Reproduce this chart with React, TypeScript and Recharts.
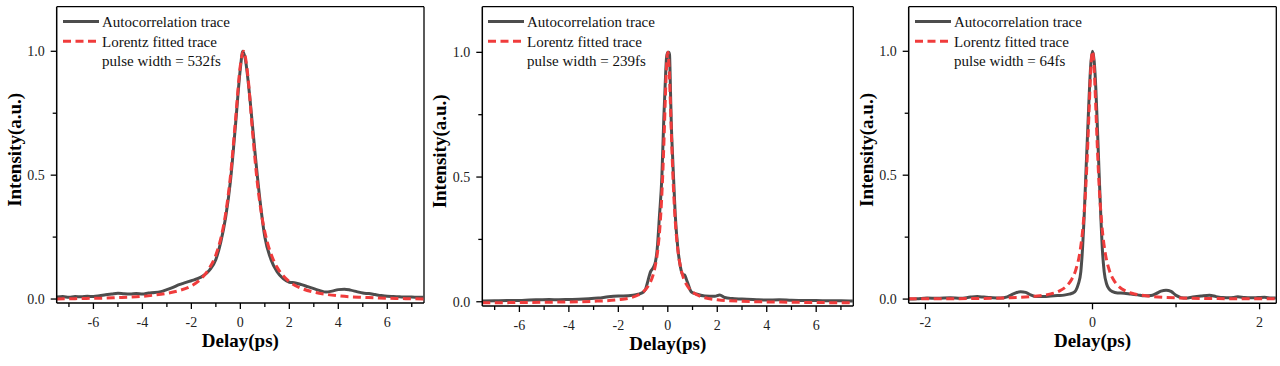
import React from 'react';
import { LineChart, Line, XAxis, YAxis, Label, Legend, ReferenceLine } from 'recharts';

// ---------- text ----------
const seriesNames = ['Autocorrelation trace', 'Lorentz fitted trace'];
const pulseWidths = ['532fs', '239fs', '64fs'];
const xAxisTitle = 'Delay(ps)';
const yAxisTitle = 'Intensity(a.u.)';

// ---------- ticks ----------
const wideDelayTicks = [-7, -6, -5, -4, -3, -2, -1, 0, 1, 2, 3, 4, 5, 6, 7];
const wideDelayLabeled = [-6, -4, -2, 0, 2, 4, 6];
const narrowDelayTicks = [-2, -1, 0, 1, 2];
const narrowDelayLabeled = [-2, 0, 2];
const intensityTicks = [0, 0.25, 0.5, 0.75, 1];
const intensityLabeled = [0, 0.5, 1];

// ---------- panel 1 (532 fs) ----------
const trace532Delay = [-7.5, -7.25, -7, -6.75, -6.5, -6.25, -6, -5.75, -5.5, -5.25, -5, -4.75, -4.5, -4.25, -4, -3.75, -3.5, -3.25, -3, -2.75, -2.5, -2.25, -2, -1.75, -1.5, -1.25, -1, -0.8, -0.6, -0.4, -0.2, 0, 0.1, 0.2, 0.4, 0.6, 0.8, 1, 1.25, 1.5, 1.75, 2, 2.25, 2.5, 2.75, 3, 3.25, 3.5, 3.75, 4, 4.25, 4.5, 4.75, 5, 5.25, 5.5, 5.75, 6, 6.25, 6.5, 6.75, 7, 7.25, 7.5];
const trace532Intensity = [0.008, 0.01, 0.007, 0.01, 0.009, 0.011, 0.01, 0.013, 0.017, 0.02, 0.023, 0.021, 0.02, 0.022, 0.02, 0.024, 0.026, 0.03, 0.038, 0.047, 0.058, 0.066, 0.074, 0.082, 0.095, 0.118, 0.16, 0.23, 0.33, 0.48, 0.7, 0.93, 1.0, 0.97, 0.8, 0.59, 0.4, 0.25, 0.16, 0.11, 0.082, 0.068, 0.065, 0.058, 0.05, 0.042, 0.034, 0.028, 0.032, 0.038, 0.04, 0.036, 0.03, 0.024, 0.022, 0.018, 0.014, 0.011, 0.01, 0.009, 0.008, 0.008, 0.007, 0.007];
const fit532Delay = [-7.5, -7, -6.5, -6, -5.5, -5, -4.5, -4, -3.5, -3, -2.5, -2, -1.75, -1.5, -1.25, -1, -0.8, -0.6, -0.4, -0.2, 0, 0.13, 0.3, 0.5, 0.7, 0.9, 1.1, 1.3, 1.5, 1.75, 2, 2.5, 3, 3.5, 4, 4.5, 5, 5.5, 6, 6.5, 7, 7.5];
const fit532Intensity = [0.0, 0.001, 0.002, 0.003, 0.004, 0.006, 0.008, 0.011, 0.016, 0.023, 0.034, 0.053, 0.069, 0.093, 0.127, 0.178, 0.244, 0.345, 0.5, 0.72, 0.943, 1.0, 0.907, 0.672, 0.464, 0.321, 0.23, 0.17, 0.128, 0.094, 0.07, 0.043, 0.028, 0.019, 0.013, 0.009, 0.007, 0.005, 0.003, 0.002, 0.001, 0.0];

// ---------- panel 2 (239 fs) ----------
const trace239Delay = [-7.5, -7, -6.5, -6, -5.6, -5.2, -4.8, -4.4, -4, -3.6, -3.2, -2.8, -2.4, -2, -1.6, -1.4, -1.2, -1, -0.9, -0.8, -0.7, -0.6, -0.5, -0.43, -0.34, -0.24, -0.16, -0.11, -0.05, 0, 0.04, 0.07, 0.11, 0.14, 0.2, 0.3, 0.4, 0.51, 0.6, 0.68, 0.75, 0.81, 0.95, 1.15, 1.5, 1.9, 2.1, 2.3, 2.6, 3, 3.6, 4, 4.5, 5, 5.5, 6, 6.5, 7, 7.5];
const trace239Intensity = [0.003, 0.004, 0.005, 0.005, 0.007, 0.008, 0.009, 0.008, 0.009, 0.01, 0.012, 0.015, 0.02, 0.023, 0.024, 0.026, 0.03, 0.038, 0.05, 0.085, 0.12, 0.135, 0.16, 0.21, 0.34, 0.5, 0.74, 0.86, 0.98, 1.0, 1.0, 0.99, 0.84, 0.72, 0.57, 0.35, 0.22, 0.14, 0.11, 0.107, 0.09, 0.074, 0.04, 0.031, 0.023, 0.022, 0.027, 0.017, 0.013, 0.011, 0.008, 0.007, 0.008, 0.006, 0.005, 0.005, 0.004, 0.004, 0.003];
const fit239Delay = [-7.5, -5, -3, -2, -1.5, -1.2, -1, -0.8, -0.6, -0.5, -0.4, -0.3, -0.2, -0.15, -0.1, -0.05, 0, 0.05, 0.1, 0.15, 0.2, 0.3, 0.4, 0.5, 0.6, 0.8, 1, 1.2, 1.5, 2, 3, 5, 7.5];
const fit239Intensity = [-0.004, -0.002, 0.002, 0.008, 0.016, 0.027, 0.039, 0.062, 0.106, 0.147, 0.213, 0.326, 0.521, 0.66, 0.814, 0.946, 1.0, 0.946, 0.814, 0.66, 0.521, 0.326, 0.213, 0.147, 0.106, 0.062, 0.039, 0.027, 0.016, 0.008, 0.002, -0.002, -0.004];

// ---------- panel 3 (64 fs) ----------
const trace64Delay = [-2.2, -2.1, -1.98, -1.86, -1.7, -1.58, -1.46, -1.38, -1.3, -1.22, -1.1, -1.02, -0.94, -0.86, -0.8, -0.74, -0.68, -0.58, -0.5, -0.42, -0.34, -0.28, -0.24, -0.2, -0.17, -0.14, -0.12, -0.1, -0.08, -0.06, -0.04, -0.02, 0, 0.02, 0.04, 0.06, 0.08, 0.1, 0.12, 0.14, 0.17, 0.2, 0.24, 0.3, 0.38, 0.46, 0.54, 0.62, 0.7, 0.76, 0.82, 0.88, 0.94, 1, 1.06, 1.12, 1.2, 1.3, 1.4, 1.48, 1.56, 1.64, 1.74, 1.82, 1.9, 1.98, 2.06, 2.14, 2.2];
const trace64Intensity = [0.0, 0.001, 0.004, 0.003, 0.005, 0.003, 0.008, 0.01, 0.008, 0.006, 0.004, 0.009, 0.022, 0.03, 0.027, 0.017, 0.01, 0.01, 0.012, 0.014, 0.016, 0.02, 0.024, 0.035, 0.06, 0.11, 0.2, 0.33, 0.5, 0.66, 0.82, 0.95, 1.0, 0.96, 0.85, 0.68, 0.5, 0.33, 0.19, 0.11, 0.06, 0.04, 0.03, 0.025, 0.024, 0.02, 0.017, 0.013, 0.014, 0.022, 0.032, 0.036, 0.031, 0.015, 0.006, 0.004, 0.008, 0.012, 0.015, 0.01, 0.006, 0.005, 0.009, 0.006, 0.005, 0.006, 0.007, 0.004, 0.004];
const fit64Delay = [-2.2, -1.5, -1, -0.7, -0.5, -0.4, -0.3, -0.25, -0.2, -0.15, -0.12, -0.1, -0.08, -0.06, -0.04, -0.02, 0, 0.02, 0.04, 0.06, 0.08, 0.1, 0.12, 0.15, 0.2, 0.25, 0.3, 0.4, 0.5, 0.7, 1, 1.5, 2.2];
const fit64Intensity = [0.001, 0.002, 0.005, 0.011, 0.021, 0.032, 0.056, 0.079, 0.118, 0.191, 0.27, 0.348, 0.454, 0.597, 0.769, 0.93, 1.0, 0.93, 0.769, 0.597, 0.454, 0.348, 0.27, 0.191, 0.118, 0.079, 0.056, 0.032, 0.021, 0.011, 0.005, 0.002, 0.001];

const zip = (xs: number[], ys: number[]) => xs.map((d, i) => ({ delay: d, intensity: ys[i] }));

const FONT = "'Liberation Serif', 'Times New Roman', serif";
const GRAY = '#4d4d4d';
const RED = '#f03c3c';

const makeXTick = (labeled: number[]) => (props: any) => {
  const { x, y, payload } = props;
  const major = labeled.includes(payload.value);
  return (
    <g>
      <line x1={x} x2={x} y1={y} y2={y + (major ? 6 : 4)} stroke="#000" strokeWidth={1.3} />
      {major && (
        <text x={x} y={y + 23.5} textAnchor="middle" fontFamily={FONT} fontSize={14} fill="#222">
          {payload.value}
        </text>
      )}
    </g>
  );
};

const yTick = (props: any) => {
  const { x, y, payload } = props;
  const major = intensityLabeled.includes(payload.value);
  return (
    <g>
      <line x1={x - (major ? 6 : 4)} x2={x} y1={y} y2={y} stroke="#000" strokeWidth={1.3} />
      {major && (
        <text x={x - 12} y={y + 5} textAnchor="end" fontFamily={FONT} fontSize={14} fill="#222">
          {payload.value.toFixed(1)}
        </text>
      )}
    </g>
  );
};

const xTitle = (p: any) => {
  const vb = p.viewBox;
  return (
    <text x={vb.x + vb.width / 2} y={vb.y + 44} textAnchor="middle" fontFamily={FONT} fontWeight="bold" fontSize={19} fill="#000">
      {xAxisTitle}
    </text>
  );
};

const yTitle = (p: any) => {
  const vb = p.viewBox;
  const cx = vb.x + vb.width - 42.5;
  const cy = vb.y + vb.height / 2 - 5;
  return (
    <text x={cx} y={cy} transform={`rotate(-90 ${cx} ${cy})`} textAnchor="middle" dominantBaseline="central" fontFamily={FONT} fontWeight="bold" fontSize={19} fill="#000">
      {yAxisTitle}
    </text>
  );
};

const legendBox = (pulse: string) => () => (
  <svg width={230} height={64} style={{ display: 'block' }}>
    <line x1={6} x2={42} y1={14.5} y2={14.5} stroke={GRAY} strokeWidth={3} />
    <line x1={6} x2={42} y1={34.3} y2={34.3} stroke={RED} strokeWidth={3} strokeDasharray="8 4.5" />
    <text x={45} y={20.3} fontFamily={FONT} fontSize={15} fill="#111">{seriesNames[0]}</text>
    <text x={45} y={39.8} fontFamily={FONT} fontSize={15} fill="#111">{seriesNames[1]}</text>
    <text x={45} y={58.8} fontFamily={FONT} fontSize={15} fill="#111">{`pulse width = ${pulse}`}</text>
  </svg>
);

type PanelProps = {
  left: number;
  margin: { top: number; right: number; bottom: number; left: number };
  yAxisWidth: number;
  xDomain: [number, number];
  yDomain: [number, number];
  xTicks: number[];
  xLabeled: number[];
  trace: { delay: number; intensity: number }[];
  fit: { delay: number; intensity: number }[];
  pulse: string;
};

function Panel(p: PanelProps) {
  const plotLeft = p.margin.left + p.yAxisWidth;
  return (
    <div style={{ position: 'absolute', left: p.left, top: 0 }}>
      <LineChart width={430} height={366} margin={p.margin}>
        <XAxis
          xAxisId="b"
          dataKey="delay"
          type="number"
          domain={p.xDomain}
          allowDataOverflow
          ticks={p.xTicks}
          interval={0}
          tickLine={false}
          tickSize={0}
          tickMargin={0}
          height={30}
          axisLine={{ stroke: '#000', strokeWidth: 1.5 }}
          tick={makeXTick(p.xLabeled)}
        >
          <Label content={xTitle} />
        </XAxis>
        <YAxis
          yAxisId="l"
          type="number"
          domain={p.yDomain}
          allowDataOverflow
          ticks={intensityTicks}
          interval={0}
          tickLine={false}
          tickSize={0}
          tickMargin={0}
          width={p.yAxisWidth}
          axisLine={{ stroke: '#000', strokeWidth: 1.5 }}
          tick={yTick}
        >
          <Label content={yTitle} />
        </YAxis>
        <ReferenceLine xAxisId="b" yAxisId="l" y={p.yDomain[1]} stroke="#000" strokeWidth={1.3} ifOverflow="visible" />
        <ReferenceLine xAxisId="b" yAxisId="l" x={p.xDomain[1]} stroke="#000" strokeWidth={1.3} ifOverflow="visible" />
        <Legend
          layout="horizontal"
          verticalAlign="middle"
          align="center"
          content={legendBox(p.pulse)}
          wrapperStyle={{ left: plotLeft, top: p.margin.top, width: 230, height: 64 }}
        />
        <Line
          xAxisId="b"
          yAxisId="l"
          data={p.trace}
          dataKey="intensity"
          name={seriesNames[0]}
          type="monotone"
          stroke={GRAY}
          strokeWidth={3}
          dot={false}
          activeDot={false}
          isAnimationActive={false}
        />
        <Line
          xAxisId="b"
          yAxisId="l"
          data={p.fit}
          dataKey="intensity"
          name={seriesNames[1]}
          type="monotone"
          stroke={RED}
          strokeWidth={3}
          strokeDasharray="8 4.5"
          dot={false}
          activeDot={false}
          isAnimationActive={false}
        />
      </LineChart>
    </div>
  );
}

export default function App() {
  return (
    <div style={{ position: 'absolute', left: 0, top: 0, width: 1280, height: 366, background: '#fff', overflow: 'hidden' }}>
      <Panel
        left={0}
        margin={{ top: 6.7, right: 6, bottom: 33, left: 12 }}
        yAxisWidth={44.7}
        xDomain={[-7.5, 7.5]}
        yDomain={[-0.016, 1.18]}
        xTicks={wideDelayTicks}
        xLabeled={wideDelayLabeled}
        trace={zip(trace532Delay, trace532Intensity)}
        fit={zip(fit532Delay, fit532Intensity)}
        pulse={pulseWidths[0]}
      />
      <Panel
        left={425}
        margin={{ top: 6.7, right: 1.7, bottom: 30, left: 12 }}
        yAxisWidth={45.3}
        xDomain={[-7.5, 7.5]}
        yDomain={[-0.017, 1.183]}
        xTicks={wideDelayTicks}
        xLabeled={wideDelayLabeled}
        trace={zip(trace239Delay, trace239Intensity)}
        fit={zip(fit239Delay, fit239Intensity)}
        pulse={pulseWidths[1]}
      />
      <Panel
        left={850}
        margin={{ top: 6.7, right: 3.7, bottom: 32.7, left: 12 }}
        yAxisWidth={46.7}
        xDomain={[-2.2, 2.2]}
        yDomain={[-0.017, 1.18]}
        xTicks={narrowDelayTicks}
        xLabeled={narrowDelayLabeled}
        trace={zip(trace64Delay, trace64Intensity)}
        fit={zip(fit64Delay, fit64Intensity)}
        pulse={pulseWidths[2]}
      />
    </div>
  );
}
